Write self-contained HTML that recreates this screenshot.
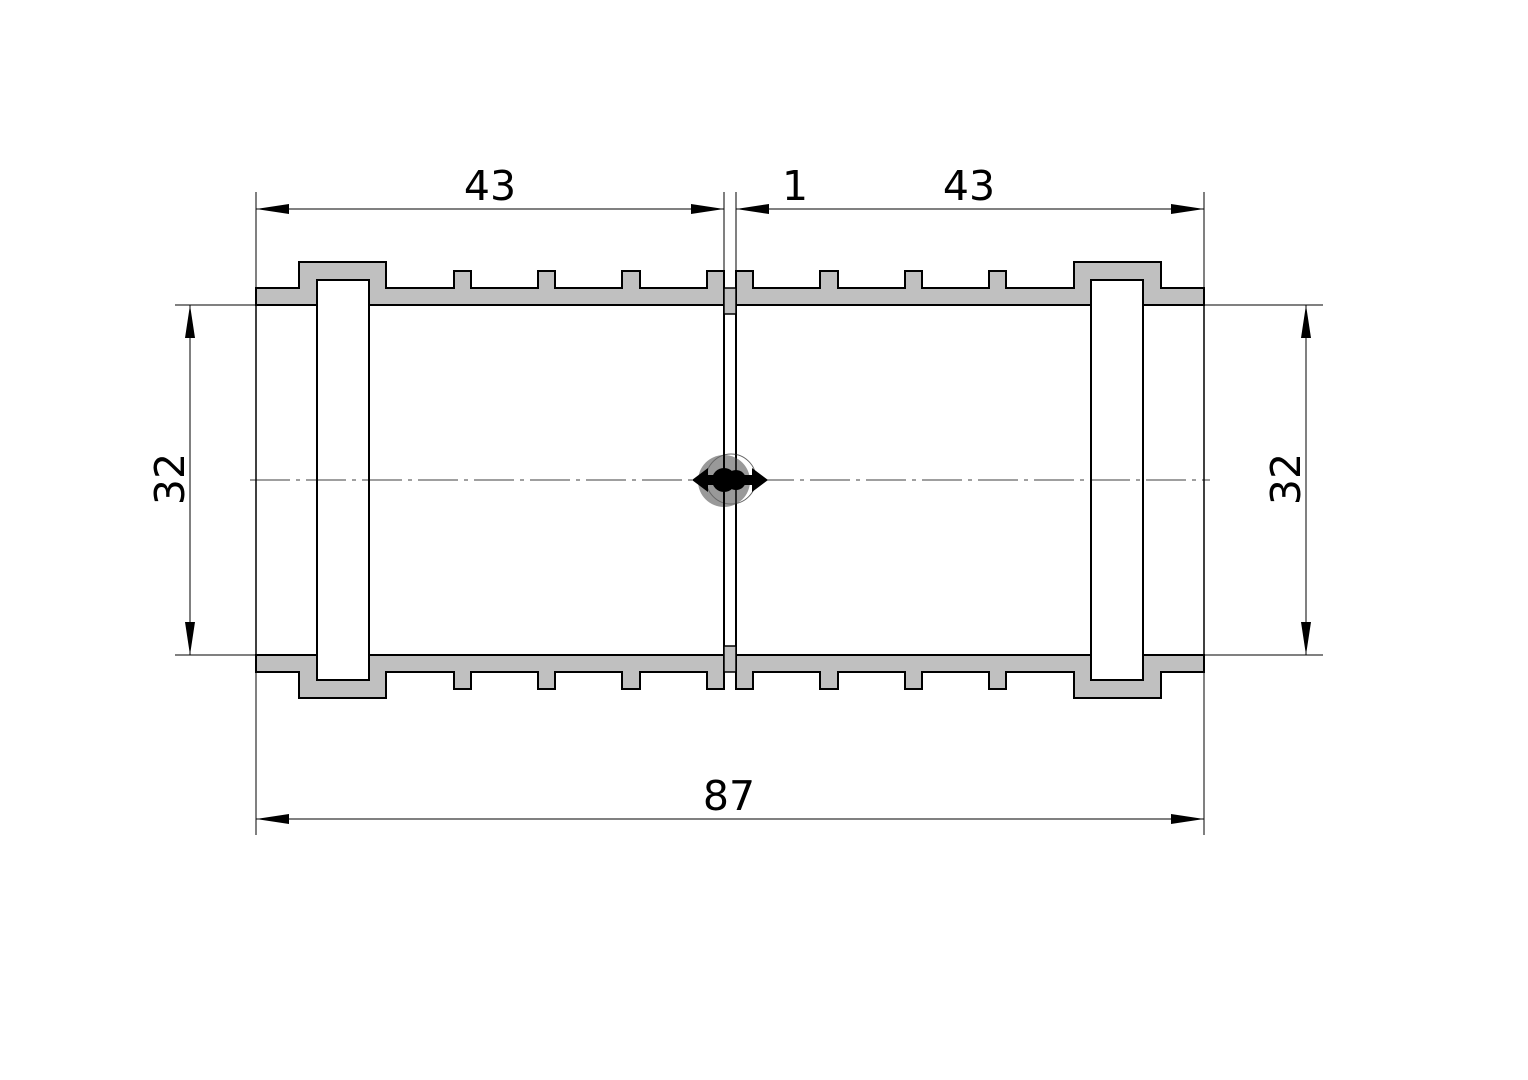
<!DOCTYPE html>
<html><head><style>html,body{margin:0;padding:0;background:#fff}svg{display:block}</style></head><body>
<svg width="1528" height="1080" viewBox="0 0 1528 1080" xmlns="http://www.w3.org/2000/svg">
<defs>
<g id="wall">
<path d="M256,288 H299 V262 H386 V288 H454 V271 H471 V288 H538 V271 H555 V288 H622 V271 H640 V288 H707 V271 H724 V305 H369 V280 H317 V305 H256 Z" fill="#c0c0c0" stroke="#000" stroke-width="2" stroke-linejoin="miter"/>
</g>
<g id="half">
<use href="#wall"/>
<use href="#wall" transform="translate(0,960) scale(1,-1)"/>
<rect x="317" y="280" width="52" height="400" fill="#fff" stroke="#000" stroke-width="2"/>
<line x1="256" y1="305" x2="256" y2="655" stroke="#000" stroke-width="1.5"/>
<line x1="724" y1="305" x2="724" y2="655" stroke="#000" stroke-width="2"/>
</g>
</defs>
<use href="#half"/>
<use href="#half" transform="translate(1460,0) scale(-1,1)"/>
<rect x="724" y="288" width="12" height="26" fill="#c0c0c0" stroke="#000" stroke-width="1.5"/>
<rect x="724" y="646" width="12" height="26" fill="#c0c0c0" stroke="#000" stroke-width="1.5"/>
<g stroke="#000" stroke-width="1" fill="none">
<line x1="256" y1="192" x2="256" y2="835"/>
<line x1="1204" y1="192" x2="1204" y2="835"/>
<line x1="724" y1="192" x2="724" y2="288"/>
<line x1="736" y1="192" x2="736" y2="288"/>
<line x1="175" y1="305" x2="256" y2="305"/>
<line x1="175" y1="655" x2="256" y2="655"/>
<line x1="1204" y1="305" x2="1323" y2="305"/>
<line x1="1204" y1="655" x2="1323" y2="655"/>
<line x1="256" y1="209" x2="724" y2="209"/>
<line x1="736" y1="209" x2="1204" y2="209"/>
<line x1="256" y1="819" x2="1204" y2="819"/>
<line x1="190" y1="305" x2="190" y2="655"/>
<line x1="1306" y1="305" x2="1306" y2="655"/>
<line x1="250" y1="480" x2="1210" y2="480" stroke-dasharray="40,6,4,6" stroke-width="0.8"/>
</g>
<g fill="#000">
<polygon points="256,209 289,204 289,214"/>
<polygon points="724,209 691,204 691,214"/>
<polygon points="736,209 769,204 769,214"/>
<polygon points="1204,209 1171,204 1171,214"/>
<polygon points="256,819 289,814 289,824"/>
<polygon points="1204,819 1171,814 1171,824"/>
<polygon points="190,305 185,338 195,338"/>
<polygon points="190,655 185,622 195,622"/>
<polygon points="1306,305 1301,338 1311,338"/>
<polygon points="1306,655 1301,622 1311,622"/>
</g>
<circle cx="724" cy="481" r="26" fill="#999"/>
<circle cx="731" cy="479" r="25" fill="none" stroke="#666" stroke-width="1"/>
<g fill="#000">
<polygon points="692,480 708,468 708,475 752,475 752,468 768,480 752,492 752,485 708,485 708,492"/>
<circle cx="724" cy="480" r="12"/>
<circle cx="736" cy="480" r="10"/>
</g>
<line x1="724" y1="440" x2="724" y2="520" stroke="#000" stroke-width="2"/>
<line x1="736" y1="440" x2="736" y2="520" stroke="#000" stroke-width="1.5"/>
<g font-family="'DejaVu Sans','Liberation Sans',sans-serif" font-size="41" fill="#000" text-anchor="middle">
<text x="490" y="200">43</text>
<text x="795" y="200">1</text>
<text x="969" y="200">43</text>
<text x="729" y="810">87</text>
<text transform="translate(184,479) rotate(-90)">32</text>
<text transform="translate(1300,479) rotate(-90)">32</text>
</g>
</svg>
</body></html>
